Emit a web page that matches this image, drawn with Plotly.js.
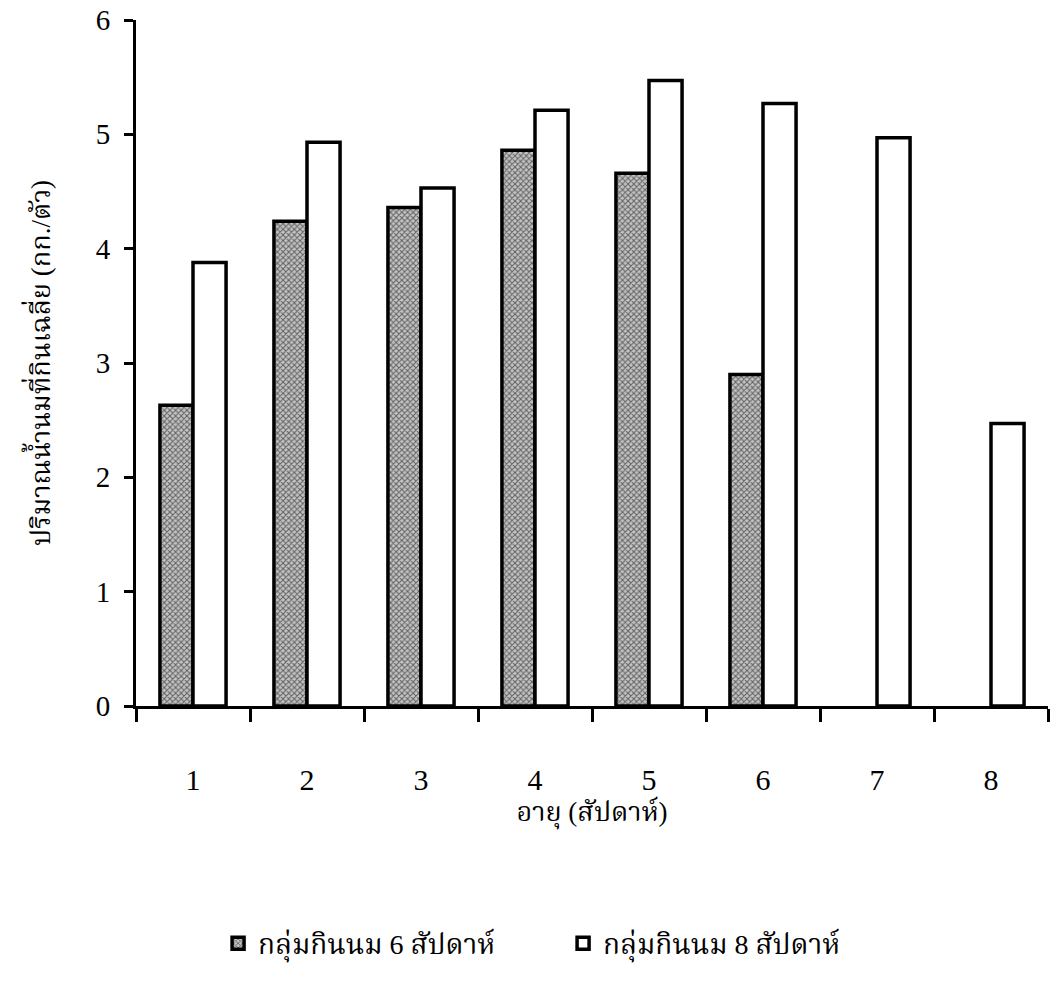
<!DOCTYPE html>
<html>
<head>
<meta charset="utf-8">
<script src="https://cdn.plot.ly/plotly-3.0.1.min.js"></script>
<style>html,body{margin:0;padding:0;background:#fff;}#chart{width:1050px;height:1008px;}</style>
</head>
<body>
<div id="chart"></div>
<script>
const weeks = ['1','2','3','4','5','6','7','8'];
const group6Name = 'กลุ่มกินนม 6 สัปดาห์';
const group8Name = 'กลุ่มกินนม 8 สัปดาห์';
const group6 = [2.63, 4.24, 4.36, 4.86, 4.66, 2.90, null, null];
const group8 = [3.88, 4.93, 4.53, 5.21, 5.47, 5.27, 4.97, 2.47];
const yTicks = [0, 1, 2, 3, 4, 5, 6];
const xTitle = 'อายุ (สัปดาห์)';
const yTitle = 'ปริมาณน้ำนมที่กินเฉลี่ย (กก./ตัว)';

const serif = '"Liberation Serif", "Noto Serif Thai", "Noto Sans Thai", serif';

const traces = [
  {
    type: 'bar', name: group6Name, x: weeks, y: group6,
    marker: {
      color: '#9a9a9a',
      pattern: {shape: 'x', size: 4, solidity: 0.45, fgcolor: '#000', bgcolor: '#c4c4c4', fillmode: 'overlay'},
      line: {color: '#000', width: 3.5}
    }
  },
  {
    type: 'bar', name: group8Name, x: weeks, y: group8,
    marker: {color: '#fff', line: {color: '#000', width: 3.5}}
  }
];

const layout = {
  width: 1050, height: 1008,
  paper_bgcolor: '#fff', plot_bgcolor: '#fff',
  margin: {l: 136, r: 2, t: 20, b: 302},
  barmode: 'group', bargap: 0.42, bargroupgap: 0,
  font: {family: serif, color: '#000', size: 24},
  xaxis: {
    type: 'category',
    tickson: 'boundaries',
    ticks: 'outside', ticklen: 13, tickwidth: 3, tickcolor: '#000',
    showline: true, linecolor: '#000', linewidth: 3,
    showgrid: false, zeroline: false,
    tickfont: {family: serif, size: 30},
    ticklabelstandoff: 45,
    title: {text: xTitle, font: {family: serif, size: 27}, standoff: 0}
  },
  yaxis: {
    range: [0, 6],
    tickvals: yTicks,
    ticks: 'outside', ticklen: 9, tickwidth: 3, tickcolor: '#000',
    showline: true, linecolor: '#000', linewidth: 3,
    showgrid: false, zeroline: false,
    tickfont: {family: serif, size: 29},
    ticklabelstandoff: 8,
    title: {text: yTitle, font: {family: serif, size: 27}, standoff: 38}
  },
  showlegend: true,
  legend: {
    orientation: 'h', x: 0.09, y: -0.31, xanchor: 'left', yanchor: 'top',
    entrywidth: 300, entrywidthmode: 'pixels',
    font: {family: serif, size: 28}, itemwidth: 30
  }
};

Plotly.newPlot('chart', traces, layout, {displayModeBar: false, staticPlot: true});
</script>
</body>
</html>
